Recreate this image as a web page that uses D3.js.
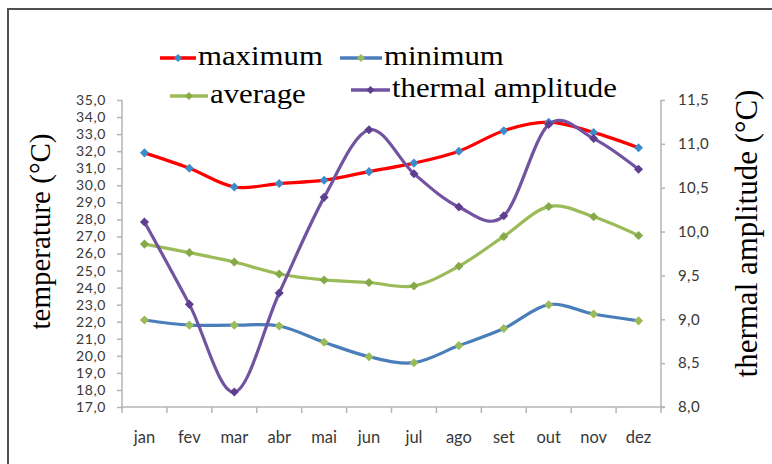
<!DOCTYPE html>
<html>
<head>
<meta charset="utf-8">
<script src="https://cdn.jsdelivr.net/npm/d3@7"></script>
<style>
  html, body { margin: 0; padding: 0; background: #fff; }
  svg { display: block; }
  .tick text { font-family: Lato, "Open Sans", sans-serif; fill: #383838; }
</style>
</head>
<body>
<svg id="chart" width="772" height="464"></svg>
<script>
// Monthly temperatures (°C) and thermal amplitude
const months = ["jan", "fev", "mar", "abr", "mai", "jun", "jul", "ago", "set", "out", "nov", "dez"];
const maximum = [31.9, 31.0, 29.9, 30.1, 30.3, 30.8, 31.3, 32.0, 33.2, 33.7, 33.1, 32.2];
const minimum = [22.1, 21.8, 21.8, 21.75, 20.8, 19.95, 19.6, 20.6, 21.6, 23.0, 22.45, 22.05];
const average = [26.55, 26.05, 25.5, 24.8, 24.45, 24.3, 24.1, 25.25, 27.0, 28.75, 28.15, 27.05];
const amplitude = [10.11, 9.17, 8.17, 9.30, 10.39, 11.16, 10.66, 10.28, 10.18, 11.22, 11.06, 10.71];

const leftTicks = d3.range(17, 35.001, 1);
const rightTicks = d3.range(8, 11.501, 0.5);

const ptBR = d3.formatLocale({ decimal: ",", thousands: ".", grouping: [3], currency: ["R$", ""] });
const fmt = ptBR.format(".1f");

const svg = d3.select("#chart");

// outer frame
svg.append("rect")
  .attr("x", 8).attr("y", 9)
  .attr("width", 800).attr("height", 500)
  .attr("fill", "none").attr("stroke", "#505050").attr("stroke-width", 2);

const plotL = 122, plotR = 661, plotT = 100, plotB = 407;

const x = d3.scaleBand().domain(months).range([plotL, plotR]);
const yL = d3.scaleLinear().domain([17, 35]).range([plotB, plotT]);
const yR = d3.scaleLinear().domain([8, 11.5]).range([plotB, plotT]);
const cx = m => x(m) + x.bandwidth() / 2;

const axisColor = "#b5b5b5";

// left axis
const gL = svg.append("g").attr("transform", `translate(${plotL},0)`)
  .call(d3.axisLeft(yL).tickValues(leftTicks).tickFormat(fmt).tickSize(5).tickPadding(11));
// right axis
const gR = svg.append("g").attr("transform", `translate(${plotR},0)`)
  .call(d3.axisRight(yR).tickValues(rightTicks).tickFormat(fmt).tickSize(4).tickPadding(13));
// category axis, ticks at band edges
const gX = svg.append("g").attr("transform", `translate(0,${plotB})`)
  .call(d3.axisBottom(x).tickSize(0).tickPadding(24));
gX.selectAll(".edge").data(months.concat(["end"])).enter().append("line")
  .attr("class", "edge")
  .attr("x1", (d, i) => plotL + i * x.step()).attr("x2", (d, i) => plotL + i * x.step())
  .attr("y1", 0).attr("y2", 6)
  .attr("stroke", axisColor).attr("stroke-width", 1.5);

[gL, gR, gX].forEach(g => {
  g.select(".domain").attr("stroke", axisColor).attr("stroke-width", 1.5);
  g.selectAll(".tick line").attr("stroke", axisColor).attr("stroke-width", 1.5);
});
gL.selectAll(".tick text").attr("font-size", 14).attr("letter-spacing", 0.6);
gR.selectAll(".tick text").attr("font-size", 15).attr("letter-spacing", 0.4);
gX.selectAll(".tick text").attr("font-size", 16.5);
gL.select(".domain").attr("d", `M0,${plotT}V${plotB}`);
gR.select(".domain").attr("d", `M0,${plotT}V${plotB}`);
gX.select(".domain").attr("d", `M${plotL},0H${plotR + 4}`);

// axis titles
svg.append("text")
  .attr("transform", `translate(50,${(plotT + plotB) / 2 - 22}) rotate(-90)`)
  .attr("text-anchor", "middle")
  .attr("font-family", "'Liberation Serif', 'Times New Roman', serif")
  .attr("font-size", 29).attr("fill", "#000")
  .text("temperature (°C)");
svg.append("text")
  .attr("transform", `translate(757,${(plotT + plotB) / 2 - 20}) rotate(-90)`)
  .attr("text-anchor", "middle")
  .attr("font-family", "'Liberation Serif', 'Times New Roman', serif")
  .attr("font-size", 31).attr("fill", "#000")
  .text("thermal amplitude (°C)");

const curve = d3.curveCatmullRom.alpha(0);

const series = [
  { name: "minimum", values: minimum, y: yL, line: "#4a7ebb", marker: "#9bbb59" },
  { name: "average", values: average, y: yL, line: "#9bbb59", marker: "#86a94a" },
  { name: "maximum", values: maximum, y: yL, line: "#ff0000", marker: "#3d8bc9" },
  { name: "thermal amplitude", values: amplitude, y: yR, line: "#7153a0", marker: "#5e3f8f" }
];

series.forEach(s => {
  const line = d3.line().x((d, i) => cx(months[i])).y(d => s.y(d)).curve(curve);
  svg.append("path").datum(s.values)
    .attr("d", line).attr("fill", "none")
    .attr("stroke", s.line).attr("stroke-width", 3.2);
  svg.append("g").selectAll("rect").data(s.values).enter().append("rect")
    .attr("x", (d, i) => cx(months[i]) - 3.2)
    .attr("y", d => s.y(d) - 3.2)
    .attr("width", 6.4).attr("height", 6.4)
    .attr("transform", (d, i) => `rotate(45,${cx(months[i])},${s.y(d)})`)
    .attr("fill", s.marker);
});

// legend
const legend = [
  { name: "maximum", line: "#ff0000", marker: "#3d8bc9", x: 160, y: 58, len: 36 },
  { name: "minimum", line: "#4a7ebb", marker: "#9bbb59", x: 340, y: 58, len: 42 },
  { name: "average", line: "#9bbb59", marker: "#86a94a", x: 170, y: 96, len: 38 },
  { name: "thermal amplitude", line: "#7153a0", marker: "#5e3f8f", x: 351, y: 90, len: 39 }
];
const lg = svg.append("g").selectAll("g").data(legend).enter().append("g");
lg.append("line")
  .attr("x1", d => d.x).attr("x2", d => d.x + d.len)
  .attr("y1", d => d.y).attr("y2", d => d.y)
  .attr("stroke", d => d.line).attr("stroke-width", 3.4);
lg.append("rect")
  .attr("x", d => d.x + d.len / 2 - 2.8).attr("y", d => d.y - 2.8)
  .attr("width", 5.6).attr("height", 5.6)
  .attr("transform", d => `rotate(45,${d.x + d.len / 2},${d.y})`)
  .attr("fill", d => d.marker);
lg.append("text")
  .attr("transform", d => `translate(${d.x + d.len + 2},${d.y + 7}) scale(1.1,1)`)
  .attr("font-family", "'Liberation Serif', 'Times New Roman', serif")
  .attr("font-size", 28).attr("fill", "#000")
  .text(d => d.name);
</script>
</body>
</html>
